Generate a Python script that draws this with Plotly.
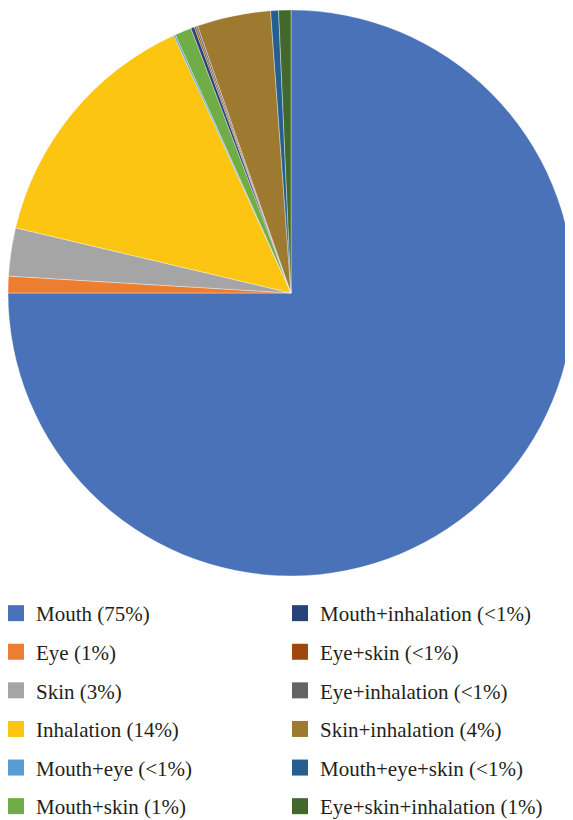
import plotly.graph_objects as go

categories = ["Mouth", "Eye", "Skin", "Inhalation", "Mouth+eye", "Mouth+skin",
              "Mouth+inhalation", "Eye+skin", "Eye+inhalation", "Skin+inhalation",
              "Mouth+eye+skin", "Eye+skin+inhalation"]
values = [75.0, 0.95, 2.75, 14.5, 0.1, 0.95, 0.2, 0.1, 0.1, 4.2, 0.45, 0.7]
pct_labels = ["75%", "1%", "3%", "14%", "<1%", "1%", "<1%", "<1%", "<1%", "4%", "<1%", "1%"]
colors = ["#4A72B8", "#ED7D31", "#A5A5A5", "#FCC512", "#5B9BD5", "#70AD47",
          "#264478", "#9E480E", "#636363", "#9E7A30", "#255E91", "#43682B"]

FONT = "'Liberation Serif', 'Times New Roman', serif"

fig = go.Figure()
fig.add_trace(go.Pie(
    labels=categories, values=values, sort=False, direction="clockwise",
    rotation=0, textinfo="none", showlegend=False,
    marker=dict(colors=colors, line=dict(color="rgba(255,255,255,0.6)", width=0.6)),
    domain=dict(x=[0.0, 566 / 573], y=[1 - 568 / 820, 1 - 2 / 820]),
))

for i, (c, p, col) in enumerate(zip(categories, pct_labels, colors)):
    fig.add_trace(go.Scatter(
        x=[None], y=[None], mode="markers", name=f"{c} ({p})",
        marker=dict(symbol="square", size=16, color=col),
        legend="legend" if i < 6 else "legend2",
        legendgroup=f"g{i}",
    ))

legend_common = dict(
    font=dict(family=FONT, size=21, color="#231F20"),
    traceorder="grouped", tracegroupgap=8.3, yanchor="top", xanchor="left",
    bgcolor="rgba(0,0,0,0)", borderwidth=0, itemclick=False,
)

fig.update_layout(
    width=573, height=820,
    margin=dict(l=0, r=0, t=0, b=0, autoexpand=False),
    paper_bgcolor="white", plot_bgcolor="white",
    xaxis=dict(visible=False), yaxis=dict(visible=False),
    legend=dict(x=-12 / 573, y=1 - 585 / 820, **legend_common),
    legend2=dict(x=272 / 573, y=1 - 585 / 820, **legend_common),
    font=dict(family=FONT),
)

fig.write_html("out.html")
